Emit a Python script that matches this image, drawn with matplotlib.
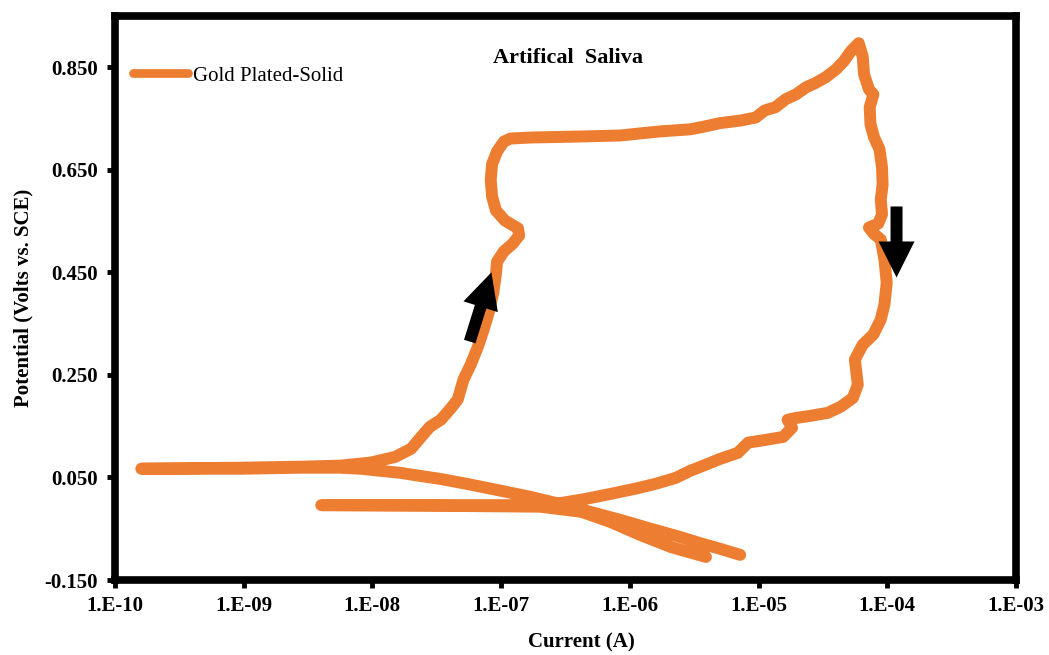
import numpy as np
import matplotlib
matplotlib.use("Agg")
import matplotlib.pyplot as plt
from matplotlib.lines import Line2D
from matplotlib.patches import Polygon
from matplotlib.ticker import NullLocator
from matplotlib.transforms import IdentityTransform

# Forward scan: cathodic start -> corrosion potential -> anodic branch -> vertex
forward_current = [
    7.2e-6, 5.0e-6, 3.5e-6, 2.45e-6, 1.45e-6, 8.5e-7, 4.9e-7, 2.9e-7, 1.7e-7, 1.0e-7,
    5.8e-8, 3.4e-8, 2.35e-8, 1.65e-8, 1.15e-8, 8.1e-9, 5.6e-9, 2.75e-9, 9.5e-10, 1.6e-10,
    9.5e-10, 2.75e-9, 5.6e-9, 9.7e-9, 1.5e-8, 2.0e-8, 2.35e-8, 2.8e-8, 3.4e-8, 4.1e-8,
    4.6e-8, 5.1e-8, 5.8e-8, 6.6e-8, 7.3e-8, 8.0e-8, 8.7e-8, 9.1e-8, 9.3e-8, 1.05e-7,
    1.23e-7, 1.38e-7, 1.35e-7, 1.07e-7, 9.1e-8, 8.5e-8, 8.3e-8, 8.5e-8, 9.3e-8, 1.05e-7,
    1.18e-7, 1.7e-7, 4.2e-7, 8.5e-7, 1.2e-6, 1.74e-6, 2.95e-6, 3.9e-6, 5.0e-6, 7.2e-6,
    9.5e-6, 1.12e-5, 1.35e-5, 1.62e-5, 1.95e-5, 2.34e-5, 2.75e-5, 3.3e-5, 4.0e-5, 4.6e-5,
    5.2e-5, 6.0e-5,
]
forward_potential = [
    -0.101, -0.089, -0.078, -0.066, -0.050, -0.033, -0.017, -0.002, 0.012, 0.024,
    0.036, 0.047, 0.053, 0.059, 0.063, 0.067, 0.069, 0.069, 0.067, 0.067,
    0.069, 0.071, 0.073, 0.079, 0.090, 0.106, 0.127, 0.149, 0.1625, 0.186,
    0.202, 0.241, 0.270, 0.305, 0.338, 0.371, 0.411, 0.446, 0.471, 0.491,
    0.506, 0.522, 0.536, 0.551, 0.571, 0.598, 0.631, 0.661, 0.686, 0.705,
    0.711, 0.713, 0.715, 0.717, 0.721, 0.725, 0.729, 0.735, 0.741, 0.746,
    0.752, 0.766, 0.772, 0.7875, 0.797, 0.811, 0.819, 0.830, 0.846, 0.862,
    0.881, 0.897,
]

# Reverse scan: vertex -> repassivation -> second corrosion potential -> cathodic end
reverse_current = [
    6.45e-5, 6.6e-5, 7.2e-5, 7.8e-5, 7.3e-5, 7.4e-5, 7.9e-5, 8.7e-5, 9.1e-5, 9.2e-5,
    8.9e-5, 9.1e-5, 8.5e-5, 7.2e-5, 7.8e-5, 8.9e-5, 9.5e-5, 9.9e-5, 9.5e-5, 8.9e-5,
    7.8e-5, 6.45e-5, 5.6e-5, 5.9e-5, 5.4e-5, 4.35e-5, 3.45e-5, 2.5e-5, 1.95e-5, 1.68e-5,
    1.82e-5, 1.55e-5, 1.12e-5, 8.3e-6, 6.9e-6, 5.0e-6, 3.9e-6, 2.95e-6, 2.26e-6, 1.58e-6,
    1.1e-6, 7.1e-7, 4.5e-7, 2.9e-7, 1.7e-7, 4.1e-8, 4.0e-9, 4.1e-8, 2.0e-7, 4.2e-7,
    7.1e-7, 1.2e-6, 2.1e-6, 3.9e-6,
]
reverse_potential = [
    0.870, 0.836, 0.807, 0.797, 0.772, 0.739, 0.713, 0.690, 0.655, 0.621,
    0.592, 0.563, 0.545, 0.5375, 0.526, 0.514, 0.475, 0.430, 0.387, 0.358,
    0.329, 0.309, 0.280, 0.231, 0.205, 0.188, 0.176, 0.170, 0.166, 0.1625,
    0.147, 0.129, 0.123, 0.118, 0.098, 0.086, 0.075, 0.063, 0.049, 0.0375,
    0.028, 0.018, 0.008, 0.000, -0.004, -0.004, -0.004, -0.0055, -0.007, -0.017,
    -0.037, -0.062, -0.086, -0.105,
]

x_ticks = [1e-10, 1e-9, 1e-8, 1e-7, 1e-6, 1e-5, 1e-4, 1e-3]
x_tick_labels = ["1.E-10", "1.E-09", "1.E-08", "1.E-07", "1.E-06", "1.E-05", "1.E-04", "1.E-03"]
y_ticks = [-0.150, 0.050, 0.250, 0.450, 0.650, 0.850]
y_tick_labels = ["-0.150", "0.050", "0.250", "0.450", "0.650", "0.850"]

series_label = "Gold Plated-Solid"
title_text = "Artifical  Saliva"
x_label = "Current (A)"
y_label = "Potential (Volts vs. SCE)"

# Scan-direction arrows: (tail, tip) in data coordinates
up_arrow = ((5.7e-8, 0.315), (8.4e-8, 0.450))
down_arrow = ((1.18e-4, 0.5785), (1.18e-4, 0.440))

ORANGE = "#ED7D31"
plt.rcParams["font.family"] = ["Liberation Serif", "DejaVu Serif"]

W, H = 1049, 655
fig = plt.figure(figsize=(W / 100, H / 100), dpi=100)
left_px, right_px, top_px, bottom_px = 115, 1016, 16, 580
ax = fig.add_axes([left_px / W, 1 - bottom_px / H,
                   (right_px - left_px) / W, (bottom_px - top_px) / H])

ax.set_xscale("log")
ax.set_xlim(1e-10, 1e-3)
ax.set_ylim(-0.15, 0.95)

current = forward_current + reverse_current
potential = forward_potential + reverse_potential
ax.plot(current, potential, color=ORANGE, lw=8.6, solid_capstyle="round",
        solid_joinstyle="round", zorder=3)

ax.set_xticks(x_ticks)
ax.set_xticklabels(x_tick_labels, fontsize=15, fontweight="bold")
ax.xaxis.set_minor_locator(NullLocator())
ax.set_yticks(y_ticks)
ax.set_yticklabels(y_tick_labels, fontsize=15, fontweight="bold")
ax.tick_params(axis="both", direction="out", length=5.5, width=3.5, color="black")
ax.tick_params(axis="y", pad=7)
ax.tick_params(axis="x", pad=6)

for sp in ax.spines.values():
    sp.set_linewidth(5.5)
    sp.set_color("black")
    sp.set_capstyle("projecting")

ax.set_xlabel(x_label, fontsize=15, fontweight="bold")
ax.xaxis.set_label_coords(0.518, -0.093)
ax.set_ylabel(y_label, fontsize=15, fontweight="bold")
ax.yaxis.set_label_coords(-0.091, 0.5)

ax.text(0.419, 0.926, title_text, transform=ax.transAxes, fontsize=16,
        fontweight="bold", ha="left", va="center")

handle = Line2D([], [], color=ORANGE, lw=6.3, solid_capstyle="round")
ax.legend([handle], [series_label], loc="center left",
          bbox_to_anchor=(0.02, 0.894), frameon=False, fontsize=15,
          handlelength=2.64, handletextpad=0.24, borderpad=0, borderaxespad=0)


def block_arrow(tail, tip, shaft_w=12, head_w=36, head_len=36):
    p0 = ax.transData.transform(tail)
    p1 = ax.transData.transform(tip)
    d = p1 - p0
    u = d / np.hypot(*d)
    n = np.array([-u[1], u[0]])
    b = p1 - u * head_len
    pts = [p0 + n * shaft_w / 2, b + n * shaft_w / 2, b + n * head_w / 2, p1,
           b - n * head_w / 2, b - n * shaft_w / 2, p0 - n * shaft_w / 2]
    ax.add_patch(Polygon(pts, closed=True, facecolor="black", edgecolor="none",
                         transform=IdentityTransform(), clip_on=False, zorder=5))


block_arrow(*up_arrow)
block_arrow(*down_arrow)

fig.savefig("out.png", dpi=100)
